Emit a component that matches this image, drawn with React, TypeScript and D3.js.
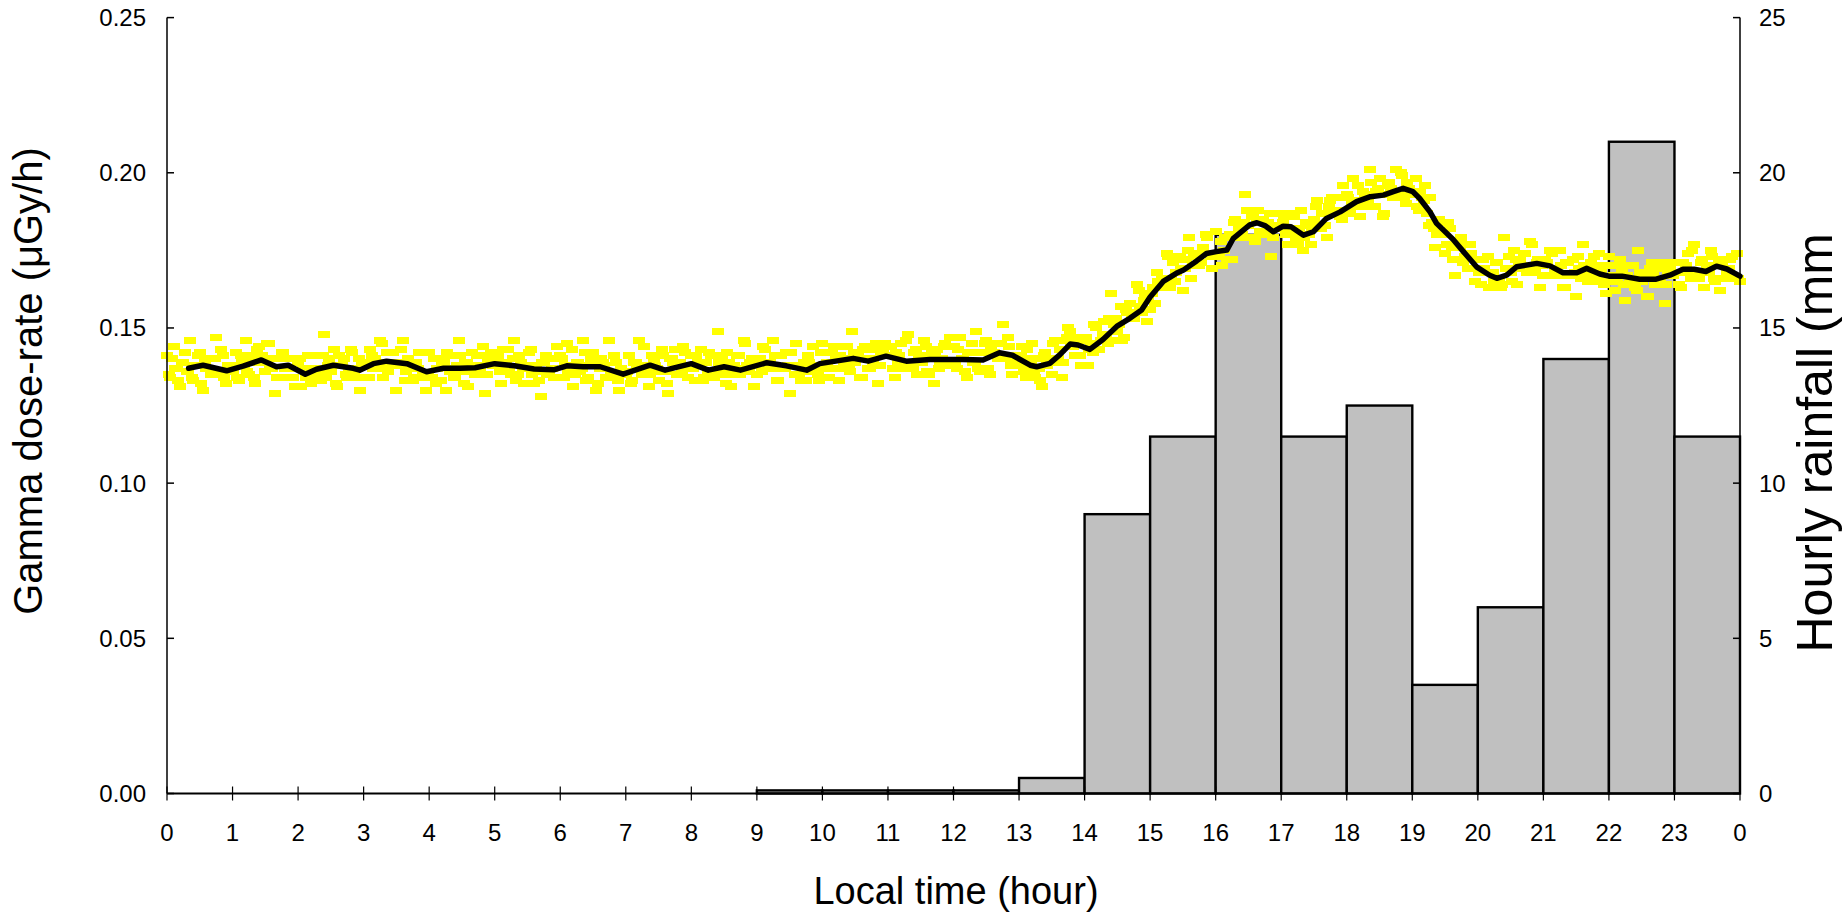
import React from "react";
import * as d3 from "d3";

// Hourly rainfall (mm), one value per hour starting at 0 h
const rainHours = [0,1,2,3,4,5,6,7,8,9,10,11,12,13,14,15,16,17,18,19,20,21,22,23];
const rainMm = [0,0,0,0,0,0,0,0,0,0.1,0.1,0.1,0.1,0.5,9,11.5,18,11.5,12.5,3.5,6,14,21,11.5];

// Smoothed gamma dose-rate (µGy/h)
const trendHour = [0.33,0.55,0.91,1.16,1.44,1.67,1.85,2.11,2.28,2.54,2.84,2.94,3.15,3.35,3.66,3.96,4.22,4.47,4.7,5.0,5.3,5.6,5.9,6.1,6.35,6.61,6.96,7.37,7.6,8.0,8.26,8.5,8.75,9.15,9.45,9.76,9.96,10.47,10.7,10.97,11.28,11.64,12.14,12.45,12.7,12.9,13.17,13.27,13.47,13.62,13.78,13.9,14.08,14.28,14.49,14.69,14.87,15.0,15.2,15.4,15.51,15.71,15.86,16.01,16.17,16.27,16.52,16.63,16.75,16.88,17.03,17.15,17.34,17.49,17.69,17.9,18.15,18.36,18.56,18.71,18.86,19.01,19.11,19.27,19.37,19.62,19.78,19.98,20.18,20.29,20.44,20.59,20.9,21.1,21.3,21.51,21.66,21.86,22.0,22.2,22.47,22.72,22.93,23.13,23.3,23.48,23.64,23.8,24.0];
const trendDose = [.1370,.1380,.1362,.1377,.1397,.1375,.1380,.1351,.1367,.1380,.1370,.1364,.1385,.1393,.1385,.1359,.1370,.1370,.1372,.1385,.1378,.1368,.1365,.1378,.1375,.1375,.1351,.1380,.1364,.1385,.1364,.1375,.1364,.1388,.1378,.1364,.1385,.1402,.1393,.1409,.1393,.1398,.1398,.1397,.1420,.1412,.1380,.1375,.1386,.1413,.1448,.1445,.1431,.1463,.1505,.1531,.1558,.1600,.1650,.1676,.1687,.1716,.1740,.1746,.1751,.1789,.1832,.1839,.1830,.1810,.1828,.1826,.1799,.1810,.1853,.1874,.1907,.1923,.1928,.1939,.1950,.1939,.1918,.1874,.1837,.1786,.1746,.1697,.1670,.1660,.1670,.1697,.1708,.1700,.1678,.1678,.1692,.1674,.1667,.1667,.1657,.1657,.1670,.1689,.1689,.1682,.1699,.1690,.1667];

// Raw dose-rate readings (nGy/h), every 3 minutes from 0 h
const rawStepHours = 0.05;
const rawDoseNGy = [
141,134,144,137,131,139,136,146,133,138,142,130,137,140,135,147,136,141,132,138,
136,142,133,140,146,135,139,132,144,141,136,145,137,129,140,142,137,134,140,131,
139,131,137,141,132,135,141,133,148,138,136,143,131,138,140,134,143,136,137,130,
134,139,143,137,139,146,134,142,138,142,130,139,146,136,137,133,139,142,135,130,
142,134,132,140,138,130,141,137,134,146,136,139,131,142,135,138,141,129,139,142,
138,141,132,137,143,135,146,135,139,132,138,143,132,136,128,139,135,140,134,144,
141,134,145,138,131,139,136,146,133,138,142,130,137,139,134,146,134,139,130,136,
135,141,133,139,146,135,138,131,141,138,133,143,136,129,140,143,139,136,142,134,
141,133,139,143,134,136,141,134,149,137,135,142,131,138,141,135,146,138,139,131,
135,140,144,137,139,146,133,141,137,142,129,138,145,135,137,133,139,144,137,133,
145,137,134,142,141,133,144,140,137,149,139,142,134,144,137,140,143,132,142,145,
141,144,134,139,145,137,148,138,142,135,141,146,136,140,132,143,139,144,138,147,
144,137,147,140,134,142,139,149,136,142,146,135,142,145,140,151,140,144,135,140,
138,144,134,140,145,134,137,131,142,140,135,146,140,134,146,150,145,141,147,138,
146,138,145,151,143,146,152,145,161,151,149,157,147,155,158,153,164,157,159,152,
156,163,168,163,166,174,163,171,168,173,162,172,179,170,173,170,176,180,174,169,
181,173,170,179,179,172,185,182,180,193,183,186,178,188,180,181,184,173,183,187,
183,186,177,181,186,177,188,179,183,177,185,191,182,187,179,191,187,192,186,196,
193,187,198,191,186,194,191,201,189,194,198,186,193,197,192,201,194,199,190,195,
193,198,188,192,196,183,184,176,185,181,174,184,176,167,177,179,173,169,174,165,
172,164,169,173,163,165,171,163,179,169,168,175,164,172,174,168,178,170,171,163,
167,171,175,167,169,175,163,171,167,172,160,169,177,167,169,165,170,174,166,161,
173,165,162,170,168,159,170,166,163,175,165,168,160,171,164,166,169,158,168,171,
168,171,163,168,174,166,177,167,171,163,170,175,166,170,162,172,168,172,166,174,
165
];
// Raw readings in between (nGy/h), every 3 minutes from 0.025 h
const rawOffsetHours = 0.025;
const rawDoseNGyB = [
135,140,137,133,139,142,136,134,138,141,132,139,137,135,140,136,143,134,138,136,
138,134,141,138,136,141,134,143,139,140,145,137,140,134,140,142,137,137,134,140,
140,137,134,141,133,137,136,141,134,140,138,132,141,138,135,136,142,134,140,138,
138,134,141,140,138,145,137,136,142,139,138,143,133,140,139,134,137,142,134,135,
134,140,137,133,139,142,136,134,138,141,132,139,138,136,141,137,144,135,140,138,
140,136,143,139,136,140,133,141,137,137,142,135,138,133,139,141,136,137,134,140,
140,138,136,143,135,139,137,142,134,140,138,132,140,138,134,135,141,133,137,135,
136,132,139,138,137,144,136,135,140,137,136,141,132,140,139,135,139,144,137,138,
137,141,138,133,139,142,136,135,139,141,132,139,137,135,141,137,145,136,140,138,
140,136,143,139,137,141,133,141,137,138,142,135,138,133,139,141,136,138,135,142,
142,139,137,144,137,141,139,144,136,142,140,134,143,140,137,139,145,138,143,141,
141,137,142,141,139,146,138,137,143,140,139,144,135,142,141,137,140,145,138,139,
138,143,140,136,142,145,139,137,142,145,137,144,142,140,145,141,147,138,141,139,
141,136,143,138,136,140,133,141,138,139,145,139,143,139,147,149,144,145,141,147,
147,143,142,150,143,148,147,153,146,153,151,146,156,155,153,155,162,155,161,160,
161,158,165,166,165,173,166,165,172,169,169,175,166,174,174,171,174,179,173,174,
173,178,175,172,180,184,180,179,184,188,179,186,184,181,185,180,187,179,183,182,
184,180,187,182,179,182,175,184,180,182,189,183,187,183,189,192,187,188,185,192,
192,190,189,196,189,193,191,197,189,195,193,187,196,195,192,194,200,192,197,194,
194,189,194,191,187,192,182,180,184,180,177,182,172,178,176,171,173,177,169,169,
168,172,168,163,168,171,166,164,169,173,165,172,170,169,174,170,177,168,172,170,
172,167,174,169,167,170,163,171,167,168,173,166,170,165,171,173,167,168,164,170,
170,167,165,172,164,167,165,170,162,168,166,160,169,167,164,165,171,164,169,167,
168,164,171,170,168,175,167,166,172,168,168,173,165,172,171,166,169,173,166,166
];

const xTickValues = d3.range(0, 25);
const xTickLabels = ["0","1","2","3","4","5","6","7","8","9","10","11","12","13","14","15","16","17","18","19","20","21","22","23","0"];
const leftTicks = [0, 0.05, 0.1, 0.15, 0.2, 0.25];
const rightTicks = [0, 5, 10, 15, 20, 25];

const W = 1843, H = 912;
const FONT = "Arial, 'Liberation Sans', sans-serif";

export default function App() {
  const x = d3.scaleLinear().domain([0, 24]).range([167, 1740]);
  const yL = d3.scaleLinear().domain([0, 0.25]).range([793.5, 17.6]);
  const yR = d3.scaleLinear().domain([0, 25]).range([793.5, 17.6]);

  const line = d3.line<number>()
    .x((_, i) => x(trendHour[i]))
    .y((d) => yL(d));

  const raw = [
    ...rawDoseNGy.map((v, i) => ({ h: i * rawStepHours, v: v / 1000 })),
    ...rawDoseNGyB.map((v, i) => ({ h: rawOffsetHours + i * rawStepHours, v: v / 1000 })),
  ];

  return (
    <div>
      <style>{"body{margin:0}"}</style>
      <svg width={W} height={H} style={{ display: "block", fontFamily: FONT }}>
        <rect width={W} height={H} fill="#fff" />
        {/* rainfall bars */}
        {rainMm.map((v, i) =>
          v > 0 ? (
            <rect
              key={"b" + i}
              x={x(rainHours[i])}
              y={yR(v)}
              width={x(rainHours[i] + 1) - x(rainHours[i])}
              height={yR(0) - yR(v)}
              fill="#c0c0c0"
              stroke="#000"
              strokeWidth={2.4}
            />
          ) : null
        )}
        {/* raw readings */}
        <g shapeRendering="crispEdges">
          {raw.map((d, i) => (
            <rect key={"p" + i} x={Math.round(x(d.h) - 6)} y={Math.round(yL(d.v) - 3.5)} width={12} height={7} fill="#ffff00" />
          ))}
        </g>
        {/* trend */}
        <path d={line(trendDose) || ""} fill="none" stroke="#000" strokeWidth={5.5} strokeLinejoin="round" strokeLinecap="round" />

        {/* axes */}
        <line x1={167} x2={167} y1={17.6} y2={793.5} stroke="#000" strokeWidth={1.5} />
        <line x1={1740} x2={1740} y1={17.6} y2={793.5} stroke="#000" strokeWidth={1.5} />
        <line x1={167} x2={1740} y1={793.5} y2={793.5} stroke="#000" strokeWidth={1.8} />
        {leftTicks.map((t) => (
          <g key={"l" + t}>
            <line x1={167} x2={174} y1={yL(t)} y2={yL(t)} stroke="#000" strokeWidth={1.5} />
            <text x={146} y={yL(t)} dy="0.35em" textAnchor="end" fontSize={24}>{t.toFixed(2)}</text>
          </g>
        ))}
        {rightTicks.map((t) => (
          <g key={"r" + t}>
            <line x1={1733} x2={1740} y1={yR(t)} y2={yR(t)} stroke="#000" strokeWidth={1.5} />
            <text x={1759} y={yR(t)} dy="0.35em" textAnchor="start" fontSize={24}>{t}</text>
          </g>
        ))}
        {xTickValues.map((t, i) => (
          <g key={"x" + t}>
            <line x1={x(t)} x2={x(t)} y1={786.5} y2={800.5} stroke="#000" strokeWidth={1.2} />
            <text x={x(t)} y={841} textAnchor="middle" fontSize={24}>{xTickLabels[i]}</text>
          </g>
        ))}
        <text x={956} y={904} textAnchor="middle" fontSize={38}>Local time (hour)</text>
        <text transform="translate(42,381) rotate(-90)" textAnchor="middle" fontSize={40}>Gamma dose-rate (μGy/h)</text>
        <text transform="translate(1832,233) rotate(-90)" textAnchor="end" fontSize={50}>Hourly rainfall (mm</text>
      </svg>
    </div>
  );
}
